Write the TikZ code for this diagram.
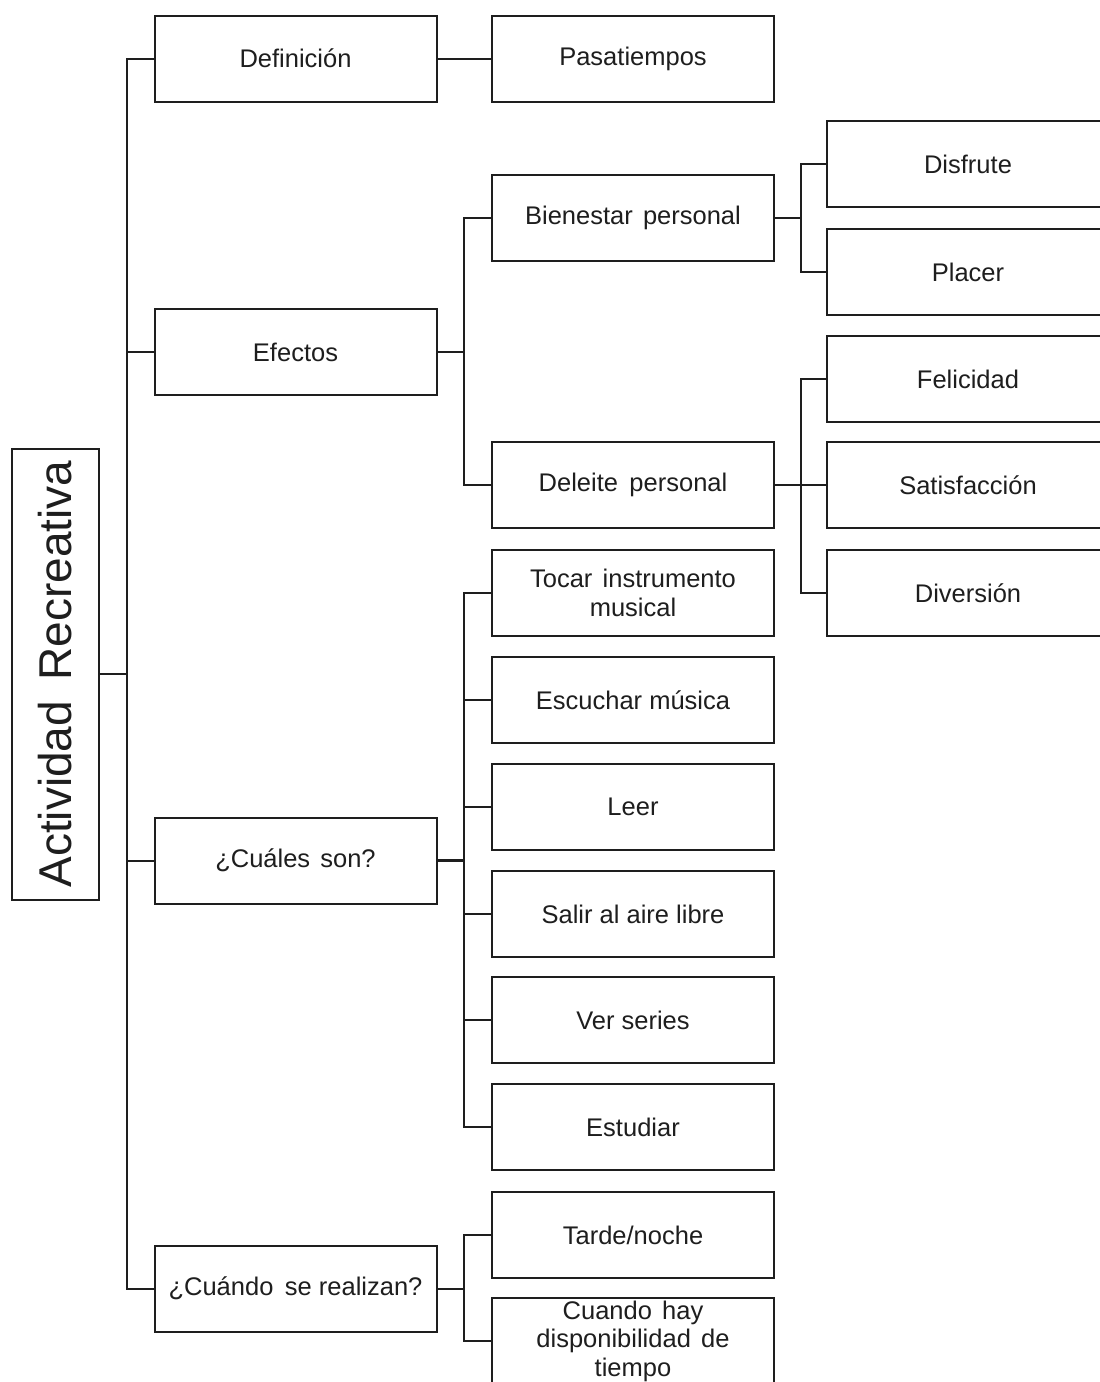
\documentclass[tikz,border=0pt]{standalone}
\usepackage{fontspec}
\setmainfont{Liberation Sans}
\definecolor{ink}{HTML}{1E1E1E}
\begin{document}
\begin{tikzpicture}[x=1pt,y=-1pt,
  box/.style={draw=ink, line width=2pt, fill=white, rectangle,
    minimum width=282pt, minimum height=86pt, inner sep=2pt,
    align=center, text=ink, font=\fontsize{25.5}{28.5}\selectfont},
  link/.style={draw=ink, line width=2pt},
  rootbox/.style={draw=ink, line width=2pt, rectangle, rotate=90,
    minimum width=451pt, minimum height=87pt, inner sep=0pt, text=ink,
    font=\fontsize{46}{50}\selectfont}]
\clip (0,0) rectangle (1100,1382);
\fill[white] (0,0) rectangle (1100,1382);

% root
\node[rootbox] (root) at (55.5,674) {Actividad\hspace{0.45em}Recreativa};

% first level
\node[box] (def)  at (295.5,58.5)  {Definición};
\node[box] (efe)  at (295.5,352)   {Efectos};
\node[box] (cual) at (295.5,860.5) {¿Cuáles\hspace{0.4em}son?};
\node[box] (cuan) at (295.5,1288.5){¿Cuándo\hspace{0.45em}se realizan?};

% second level
\node[box] (pas)  at (633,58.5)  {Pasatiempos};
\node[box] (bien) at (633,218)   {Bienestar\hspace{0.4em}personal};
\node[box] (del)  at (633,485)   {Deleite\hspace{0.45em}personal};
\node[box] (toc)  at (633,593)   {Tocar\hspace{0.4em}instrumento\\musical};
\node[box] (esc)  at (633,700)   {Escuchar música};
\node[box] (lee)  at (633,807)   {Leer};
\node[box] (sal)  at (633,914)   {Salir al aire libre};
\node[box] (ver)  at (633,1020)  {Ver series};
\node[box] (est)  at (633,1127)  {Estudiar};
\node[box] (tar)  at (633,1235)  {Tarde/noche};
\node[box] (disp) at (633,1341)  {Cuando\hspace{0.4em}hay\\disponibilidad\hspace{0.4em}de\\tiempo};

% third level
\node[box] (dis) at (968,164) {Disfrute};
\node[box] (pla) at (968,272) {Placer};
\node[box] (fel) at (968,379) {Felicidad};
\node[box] (sat) at (968,485) {Satisfacción};
\node[box] (div) at (968,593) {Diversión};

% branching points
\coordinate (trunk) at (127,674);
\coordinate (bE) at (464,352);
\coordinate (bB) at (801,218);
\coordinate (bD) at (801,485);
\coordinate (bC) at (464,860.5);
\coordinate (bQ) at (464,1288.5);

% connectors
\draw[link] (root.south) -- (trunk);
\foreach \n in {def,efe,cual,cuan} \draw[link] (trunk) |- (\n.west);
\draw[link] (def.east) -- (pas.west);
\draw[link] (efe.east) -- (bE);
\foreach \n in {bien,del} \draw[link] (bE) |- (\n.west);
\draw[link] (bien.east) -- (bB);
\foreach \n in {dis,pla} \draw[link] (bB) |- (\n.west);
\draw[link] (del.east) -- (bD);
\foreach \n in {fel,sat,div} \draw[link] (bD) |- (\n.west);
\draw[link, line width=3pt] (cual.east) -- (bC);
\foreach \n in {toc,esc,lee,sal,ver,est} \draw[link] (bC) |- (\n.west);
\draw[link] (cuan.east) -- (bQ);
\foreach \n in {tar,disp} \draw[link] (bQ) |- (\n.west);
\end{tikzpicture}
\end{document}
